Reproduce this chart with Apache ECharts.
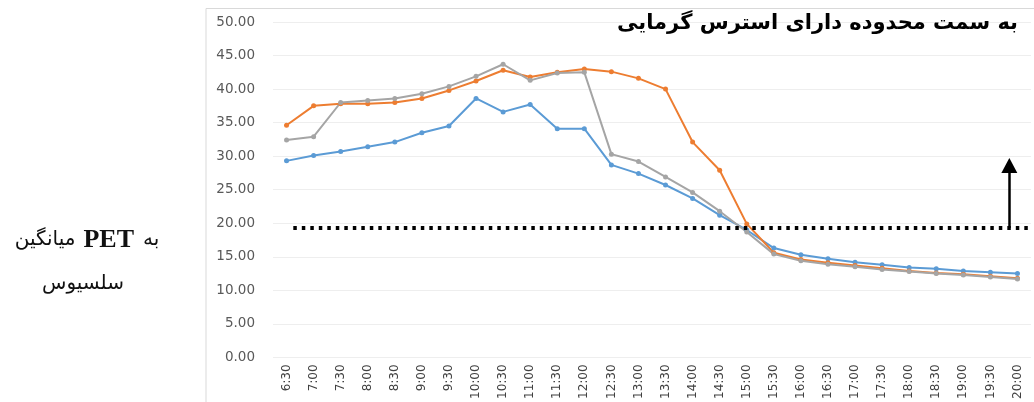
<!DOCTYPE html>
<html>
<head>
<meta charset="utf-8">
<script src="https://cdn.jsdelivr.net/npm/echarts@6/dist/echarts.min.js"></script>
<style>
  html, body { margin: 0; padding: 0; background: #fff; }
  #chart { width: 1034px; height: 402px; }
</style>
</head>
<body>
<div id="chart"></div>
<script>
// 数据
const times = ['6:30', '7:00', '7:30', '8:00', '8:30', '9:00', '9:30', '10:00', '10:30', '11:00',
  '11:30', '12:00', '12:30', '13:00', '13:30', '14:00', '14:30', '15:00', '15:30', '16:00',
  '16:30', '17:00', '17:30', '18:00', '18:30', '19:00', '19:30', '20:00']
const blueValues = [29.3, 30.1, 30.7, 31.4, 32.1, 33.5, 34.5, 38.6, 36.6, 37.7, 34.1, 34.1, 28.7, 27.4,
  25.7, 23.7, 21.2, 19.0, 16.3, 15.3, 14.7, 14.2, 13.8, 13.4, 13.2, 12.9, 12.7, 12.5]
const orangeValues = [34.6, 37.5, 37.8, 37.8, 38.0, 38.6, 39.8, 41.2, 42.8, 41.8, 42.5, 43.0, 42.6, 41.6,
  40.0, 32.1, 27.9, 19.9, 15.6, 14.6, 14.1, 13.7, 13.3, 12.9, 12.6, 12.4, 12.1, 11.8]
const grayValues = [32.4, 32.9, 38.0, 38.3, 38.6, 39.3, 40.4, 41.9, 43.7, 41.3, 42.4, 42.5, 30.3, 29.2,
  26.9, 24.6, 21.8, 18.7, 15.4, 14.4, 13.9, 13.5, 13.1, 12.8, 12.5, 12.3, 12.0, 11.7]
const yTicks = [0, 5, 10, 15, 20, 25, 30, 35, 40, 45, 50]
// 阈值虚线和箭头 (横轴按类目序号)
const thresholdValue = 19.3
const thresholdRange = [0.25, 27.5]
const arrowPos = 26.7
const arrowTop = 28.6

const titleText = 'به سمت محدوده دارای استرس گرمایی'
const yNameWords = ['میانگین', 'PET', 'به']
const yNameLine2 = 'سلسیوس'

const chart = echarts.init(document.getElementById('chart'))
const colors = ['#5b9bd5', '#ed7d31', '#a5a5a5']

const lineSeries = (name, data, color) => ({
  name,
  type: 'line',
  data,
  symbol: 'circle',
  symbolSize: 5,
  lineStyle: { width: 2, color },
  itemStyle: { color },
  z: 3
})

const option = {
  animation: false,
  color: colors,
  textStyle: { fontFamily: 'DejaVu Sans' },
  title: {
    text: titleText,
    right: 11,
    top: 8,
    textStyle: { fontFamily: 'DejaVu Sans', fontWeight: 'bold', fontSize: 21, color: '#000' }
  },
  graphic: [
    {
      type: 'polyline',
      shape: { points: [[206, 402], [206, 8.5], [1034, 8.5]] },
      style: { stroke: '#d9d9d9', fill: null, lineWidth: 1 },
      silent: true
    },
    {
      type: 'text',
      silent: true,
      style: {
        // 按视觉顺序从左到右排
        text: '{ar|' + yNameWords[0] + '}{pet|' + yNameWords[1] + '}{ar|' + yNameWords[2] + '}',
        x: 87,
        y: 240,
        align: 'center',
        verticalAlign: 'middle',
        rich: {
          ar: { fontFamily: 'DejaVu Sans', fontSize: 20, fill: '#111' },
          pet: { fontFamily: 'Liberation Serif', fontSize: 26, fontWeight: 'bold', fill: '#111', padding: [0, 9, 0, 8] }
        }
      }
    },
    {
      type: 'text',
      silent: true,
      style: {
        text: yNameLine2,
        x: 83,
        y: 284,
        align: 'center',
        verticalAlign: 'middle',
        font: '20px "DejaVu Sans"',
        fill: '#111'
      }
    }
  ],
  grid: { left: 273, right: 3, top: 22, bottom: 40 },
  xAxis: [
    {
      type: 'category',
      data: times,
      boundaryGap: true,
      axisLine: { show: false },
      axisTick: { show: false },
      axisLabel: { rotate: 90, interval: 0, fontSize: 12, color: '#404040', margin: 7 }
    },
    { type: 'value', min: -0.5, max: 27.5, show: false }
  ],
  yAxis: {
    type: 'value',
    min: yTicks[0],
    max: yTicks[yTicks.length - 1],
    interval: 5,
    axisLine: { show: false },
    axisTick: { show: false },
    axisLabel: {
      fontSize: 13.5,
      color: '#595959',
      margin: 18,
      formatter: v => v.toFixed(2)
    },
    splitLine: { lineStyle: { color: '#eeeeee', width: 1 } }
  },
  series: [
    lineSeries('blue', blueValues, colors[0]),
    lineSeries('orange', orangeValues, colors[1]),
    lineSeries('gray', grayValues, colors[2]),
    {
      name: 'threshold',
      type: 'line',
      xAxisIndex: 1,
      data: thresholdRange.map(x => [x, thresholdValue]),
      symbol: 'none',
      lineStyle: { color: '#000', width: 4, type: [3.5, 5], cap: 'butt' },
      z: 4,
      markLine: {
        silent: true,
        symbol: ['none', 'triangle'],
        symbolSize: [16, 15],
        label: { show: false },
        lineStyle: { color: '#000', width: 2.5, type: 'solid' },
        data: [[{ coord: [arrowPos, thresholdValue] }, { coord: [arrowPos, arrowTop] }]]
      }
    }
  ]
}
chart.setOption(option)
</script>
</body>
</html>
